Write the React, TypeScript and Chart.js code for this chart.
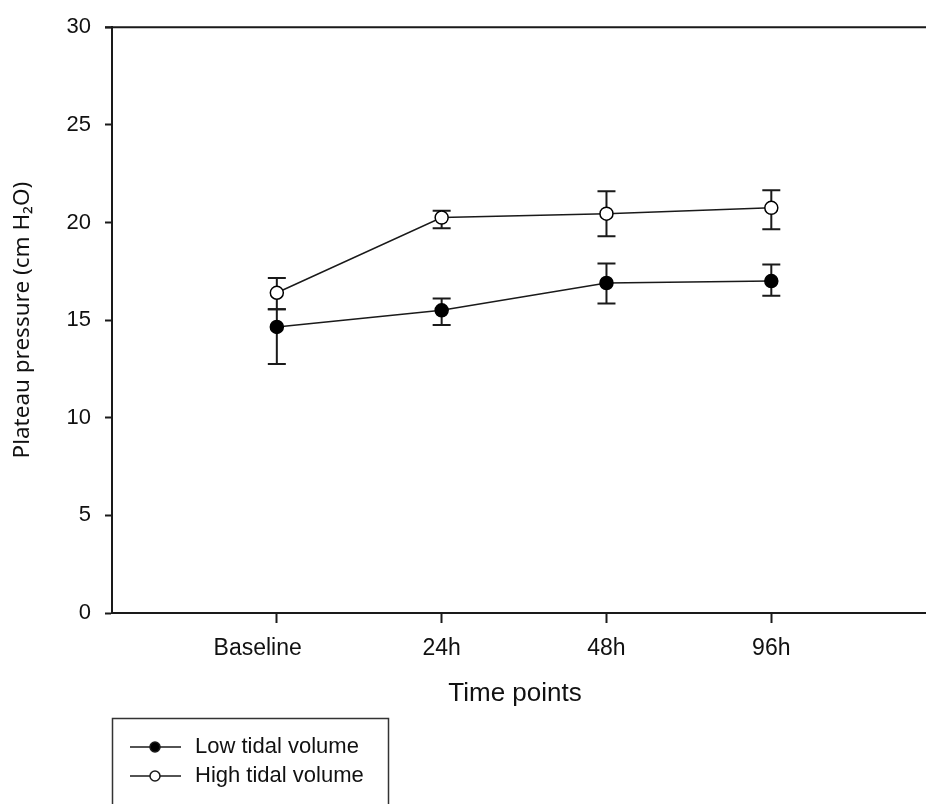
import React, { useEffect, useRef } from "react";
import { Chart, registerables } from "chart.js";

Chart.register(...registerables);

const categories = ["Baseline", "24h", "48h", "96h"];
const lowMean = [14.65, 15.5, 16.9, 17.0];
const lowUpper = [15.55, 16.1, 17.9, 17.85];
const lowLower = [12.75, 14.75, 15.85, 16.25];
const highMean = [16.4, 20.25, 20.45, 20.75];
const highUpper = [17.15, 20.6, 21.6, 21.65];
const highLower = [15.55, 19.7, 19.3, 19.65];
const yTicks = [0, 5, 10, 15, 20, 25, 30];
const seriesLabels = ["Low tidal volume", "High tidal volume"];

const INK = "#1a1a1a";

const errorBarPlugin = {
  id: "errorBars",
  beforeDatasetsDraw(chart: any) {
    const { ctx, scales } = chart;
    const xs = scales.x;
    const ys = scales.y;
    const sets = [
      { up: lowUpper, lo: lowLower },
      { up: highUpper, lo: highLower },
    ];
    ctx.save();
    ctx.strokeStyle = INK;
    ctx.lineWidth = 2;
    sets.forEach((s) => {
      s.up.forEach((u, i) => {
        const x = xs.getPixelForValue(i + 1);
        const yu = ys.getPixelForValue(u);
        const yl = ys.getPixelForValue(s.lo[i]);
        ctx.beginPath();
        ctx.moveTo(x, yu);
        ctx.lineTo(x, yl);
        ctx.moveTo(x - 9, yu);
        ctx.lineTo(x + 9, yu);
        ctx.moveTo(x - 9, yl);
        ctx.lineTo(x + 9, yl);
        ctx.stroke();
      });
    });
    ctx.restore();
  },
};

const frameLegendPlugin = {
  id: "frameLegend",
  afterDraw(chart: any) {
    const { ctx, chartArea } = chart;
    ctx.save();
    ctx.strokeStyle = INK;
    ctx.lineWidth = 2;
    ctx.beginPath();
    ctx.moveTo(chartArea.left - 7, chartArea.top);
    ctx.lineTo(chart.width, chartArea.top);
    ctx.moveTo(chartArea.left, chartArea.bottom);
    ctx.lineTo(chart.width, chartArea.bottom);
    ctx.stroke();

    const bx = chartArea.left;
    const by = 718;
    ctx.lineWidth = 1.5;
    ctx.strokeStyle = "#333";
    ctx.strokeRect(bx + 0.5, by + 0.5, 276, 120);

    const rows = [747, 776];
    chart.data.datasets.forEach((ds: any, i: number) => {
      const y = rows[i];
      ctx.strokeStyle = INK;
      ctx.lineWidth = 1.5;
      ctx.beginPath();
      ctx.moveTo(bx + 18, y);
      ctx.lineTo(bx + 69, y);
      ctx.stroke();
      ctx.beginPath();
      ctx.arc(bx + 43, y, 5, 0, Math.PI * 2);
      ctx.fillStyle = ds.pointBackgroundColor;
      ctx.fill();
      ctx.stroke();
      ctx.fillStyle = "#111";
      ctx.font = "22px 'Liberation Sans', Arial, sans-serif";
      ctx.textAlign = "left";
      ctx.textBaseline = "middle";
      ctx.fillText(ds.label, bx + 83, y);
    });
    ctx.restore();
  },
};

export default function App() {
  const ref = useRef<HTMLCanvasElement>(null);

  useEffect(() => {
    if (!ref.current) return;
    const chart = new Chart(ref.current, {
      type: "line",
      data: {
        datasets: [
          {
            label: seriesLabels[0],
            data: lowMean.map((v, i) => ({ x: i + 1, y: v })),
            borderColor: INK,
            borderWidth: 1.5,
            pointRadius: 6.5,
            pointBorderWidth: 1.5,
            pointBackgroundColor: "#000",
            pointBorderColor: "#000",
            tension: 0,
          },
          {
            label: seriesLabels[1],
            data: highMean.map((v, i) => ({ x: i + 1, y: v })),
            borderColor: INK,
            borderWidth: 1.5,
            pointRadius: 6.5,
            pointBorderWidth: 1.5,
            pointBackgroundColor: "#fff",
            pointBorderColor: "#000",
            tension: 0,
          },
        ],
      },
      options: {
        animation: false,
        responsive: false,
        devicePixelRatio: 1,
        layout: { padding: { top: 22, left: 0, right: 0, bottom: 0 } },
        plugins: {
          legend: { display: false },
          tooltip: { enabled: false },
        },
        scales: {
          x: {
            type: "linear",
            min: 0,
            max: 4.89,
            afterBuildTicks: (scale: any) => {
              scale.ticks = categories.map((_, i) => ({ value: i + 1 }));
            },
            afterFit: (scale: any) => {
              scale.height = 191;
              scale.paddingRight = 0;
              scale.paddingLeft = 0;
            },
            ticks: {
              autoSkip: false,
              maxRotation: 0,
              padding: 12,
              color: "#111",
              font: { family: "'Liberation Sans', Arial, sans-serif", size: 23 },
              callback: (v: any) => {
                const i = Number(v) - 1;
                const label = categories[i] ?? "";
                return i === 0 ? label + "      " : label;
              },
            },
            grid: {
              drawOnChartArea: false,
              drawTicks: true,
              tickLength: 10,
              tickWidth: 2,
              tickColor: INK,
            },
            border: { display: true, color: INK, width: 2 },
            title: {
              display: true,
              text: "Time points",
              color: "#111",
              font: { family: "'Liberation Sans', Arial, sans-serif", size: 26 },
              padding: { top: 0, bottom: 95 },
            },
          },
          y: {
            type: "linear",
            min: 0,
            max: 30,
            afterBuildTicks: (scale: any) => {
              scale.ticks = yTicks.map((v) => ({ value: v }));
            },
            afterFit: (scale: any) => {
              scale.width = 112;
            },
            ticks: {
              padding: 14,
              color: "#111",
              font: { family: "'Liberation Sans', Arial, sans-serif", size: 22 },
            },
            grid: {
              drawOnChartArea: false,
              drawTicks: true,
              tickLength: 7,
              tickWidth: 2,
              tickColor: INK,
            },
            border: { display: true, color: INK, width: 2 },
            title: {
              display: true,
              text: "Plateau pressure (cm H\u2082O)",
              color: "#111",
              font: { family: "'Noto Sans', sans-serif", size: 22.5 },
              padding: { top: 9, bottom: 0 },
            },
          },
        },
      },
      plugins: [errorBarPlugin, frameLegendPlugin],
    });
    return () => chart.destroy();
  }, []);

  return (
    <div style={{ position: "fixed", left: 0, top: 0, width: 926, height: 804, background: "#fff" }}>
      <canvas ref={ref} width={926} height={804} />
    </div>
  );
}
